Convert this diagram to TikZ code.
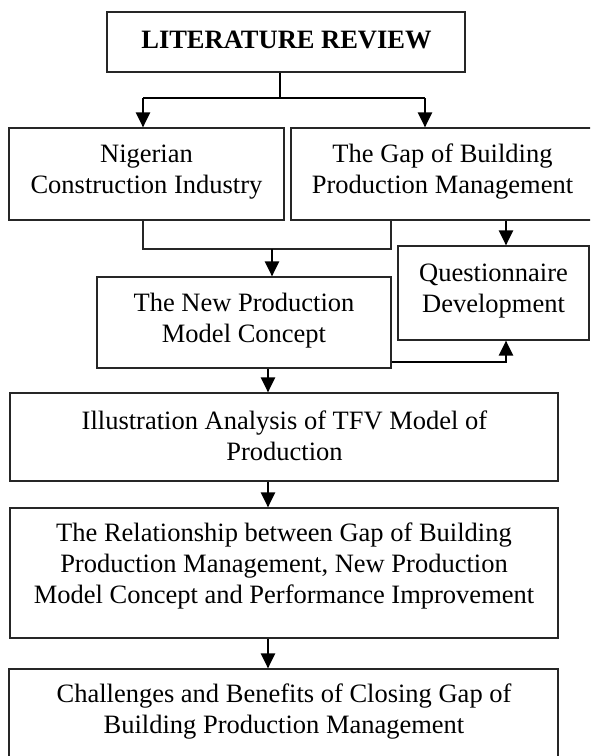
\documentclass[tikz,border=0pt]{standalone}
\usepackage{fontspec}
\setmainfont{Liberation Serif}
\usetikzlibrary{arrows.meta}
\begin{document}
\begin{tikzpicture}[x=1pt,y=-1pt,
  box/.style={draw=black!85, line width=1.2pt, inner sep=0pt},
  txt/.style={align=center, inner sep=0pt, anchor=base,
              font=\fontsize{26.5}{30.6}\selectfont},
  link/.style={line width=2.3pt},
  thinlink/.style={line width=1.6pt, draw=black!85},
  tip/.style={-{Triangle[length=15pt,width=14pt]}}
]
\useasboundingbox (0,0) rectangle (590,756);
\clip (0,0) rectangle (590,756);

% boxes
\node[box, minimum width=358pt, minimum height=60pt]  (lr)  at (286,42)    {};
\node[box, minimum width=275pt, minimum height=92pt]  (nig) at (146.5,174) {};
\node[box, minimum width=303pt, minimum height=92pt]  (gap) at (442.5,174) {};
\node[box, minimum width=294pt, minimum height=91pt]  (new) at (244,322.5) {};
\node[box, minimum width=191pt, minimum height=94pt]  (qd)  at (493.5,293) {};
\node[box, minimum width=548pt, minimum height=88pt]  (ill) at (284,437)   {};
\node[box, minimum width=548pt, minimum height=130pt] (rel) at (284,573)   {};
\node[box, minimum width=549pt, minimum height=121pt] (cha) at (283.5,729.5) {};

% texts (anchored at the baseline of the last line)
\node[txt, font=\fontsize{26.5}{30.6}\selectfont\bfseries] (lrt) at (286.5,48) {LITERATURE REVIEW};
\node[txt] (nigt) at (146.5,193) {Nigerian\\Construction Industry};
\node[txt] (gapt) at (442.5,193) {The Gap of Building\\Production Management};
\node[txt] (newt) at (244,342) {The New Production\\Model Concept};
\node[txt] (qdt)  at (493.5,312) {Questionnaire\\Development};
\node[txt] (illt) at (284.5,460) {Illustration Analysis of TFV Model of\\Production};
\node[txt] (relt) at (284,603) {The Relationship between Gap of Building\\Production Management, New Production\\Model Concept and Performance Improvement};
\node[txt] (chat) at (284,733) {Challenges and Benefits of Closing Gap of\\Building Production Management};

% junction points
\coordinate (j0) at (280,98);
\coordinate (jl) at (143,98);
\coordinate (jr) at (425,98);
\coordinate (bl) at (143,249);
\coordinate (br) at (391,249);
\coordinate (bm) at (272,249);
\coordinate (gq) at (506,0);
\coordinate (nq) at (391,362);
\coordinate (cx) at (268,0);

% connectors
\draw[link] (lr.south -| j0) -- (j0);
\draw[link] (jl) -- (jr);
\draw[link,tip] (jl) -- (jl |- nig.north);
\draw[link,tip] (jr) -- (jr |- gap.north);

\draw[thinlink] (bl |- nig.south) -- (bl) -- (br) -- (br |- gap.south);
\draw[link,tip] (bm) -- (bm |- new.north);

\draw[link,tip] (gq |- gap.south) -- (gq |- qd.north);
\draw[link,tip] (new.east |- nq) -| (gq |- qd.south);

\draw[link,tip] (cx |- new.south) -- (cx |- ill.north);
\draw[link,tip] (cx |- ill.south) -- (cx |- rel.north);
\draw[link,tip] (cx |- rel.south) -- (cx |- cha.north);
\end{tikzpicture}
\end{document}
